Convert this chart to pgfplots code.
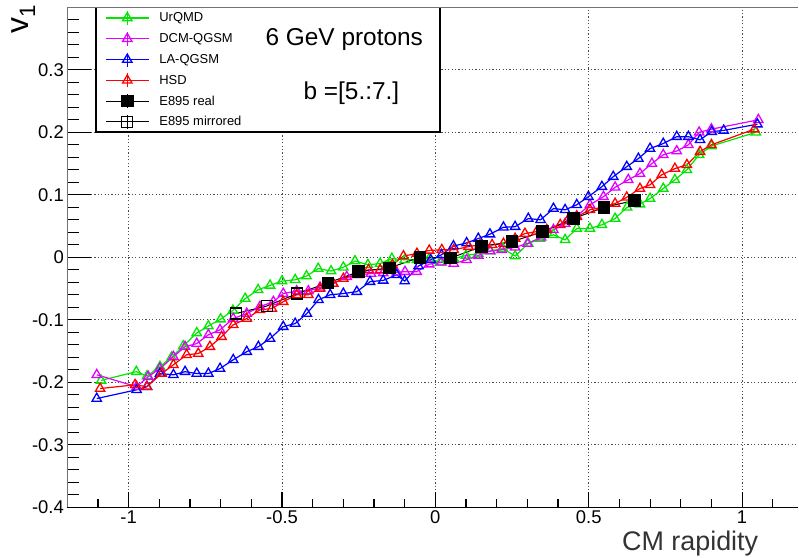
\documentclass[border=0pt]{standalone}
\usepackage{fontspec}
\setmainfont{Liberation Sans}
\usepackage{pgfplots}
\pgfplotsset{compat=1.18}
\definecolor{rgreen}{RGB}{0,230,0}
\definecolor{rmag}{RGB}{225,0,255}
\definecolor{rblue}{RGB}{0,0,255}
\definecolor{rred}{RGB}{255,0,0}
\begin{document}
\begin{tikzpicture}
\useasboundingbox (-67.3bp,-50.7bp) rectangle (731.7bp,507.3bp);
\begin{axis}[
  at={(0,0)}, anchor=south west,
  scale only axis, width=730.9bp, height=500bp,
  xmin=-1.2, xmax=1.183, ymin=-0.4, ymax=0.4,
  clip=false,
  axis line style={draw=none},
  xtick={-1,-0.5,0,0.5,1}, xticklabels={-1,-0.5,0,0.5,1},
  ytick={-0.4,-0.3,-0.2,-0.1,0,0.1,0.2,0.3},
  yticklabels={-0.4,-0.3,-0.2,-0.1,0,0.1,0.2,0.3},
  minor xtick={-1.1,-0.9,-0.8,-0.7,-0.6,-0.4,-0.3,-0.2,-0.1,0.1,0.2,0.3,0.4,0.6,0.7,0.8,0.9,1.1},
  minor ytick={-0.38,-0.36,-0.34,-0.32,-0.28,-0.26,-0.24,-0.22,-0.18,-0.16,-0.14,-0.12,-0.08,-0.06,-0.04,-0.02,0.02,0.04,0.06,0.08,0.12,0.14,0.16,0.18,0.22,0.24,0.26,0.28,0.32,0.34,0.36,0.38},
  xtick pos=lower, ytick pos=left, tick align=inside,
  xtick style={/pgfplots/major tick length=15bp,/pgfplots/minor tick length=8bp},
  ytick style={/pgfplots/major tick length=24bp,/pgfplots/minor tick length=12bp},
  tick style={black, line width=1.1bp},
  grid=major,
  major grid style={black!70, line width=0.9bp, dash pattern=on 1.2bp off 2.2bp},
  ticklabel style={font=\fontsize{18.5}{20}\selectfont},
  legend style={at={(rel axis cs:0,1)}, anchor=north west, xshift=37.7bp, yshift=0bp,
    draw=none, fill=none, font=\fontsize{13}{15}\selectfont, inner sep=0pt,
    row sep=0pt, column sep=10bp, nodes={inner sep=0pt, minimum height=20.8bp}},
  legend cell align=left,
  legend image code/.code={
    \draw[#1] (0bp,0bp) -- (43bp,0bp);
    \draw[#1] (21.5bp,-7bp) -- (21.5bp,7bp);
    \draw[#1] plot coordinates {(21.5bp,0bp)};
  },
]
\draw[black, line width=1.3bp, fill=white] (axis cs:-1.106,0.4) -- (axis cs:-1.106,0.2005) -- (axis cs:0.0153,0.2005) -- (axis cs:0.0153,0.4);

\addplot[rgreen, line width=1.2bp, mark=triangle, mark size=5.4bp, mark options={solid, line width=1.3bp}] coordinates {
(-1.090,-0.197) (-0.975,-0.183) (-0.940,-0.190) (-0.898,-0.175) (-0.860,-0.160) (-0.822,-0.142) (-0.778,-0.121) (-0.740,-0.110) (-0.700,-0.099) (-0.660,-0.085) (-0.620,-0.066) (-0.578,-0.052) (-0.539,-0.045) (-0.500,-0.038) (-0.457,-0.036) (-0.420,-0.030) (-0.382,-0.018) (-0.340,-0.022) (-0.300,-0.016) (-0.262,-0.006) (-0.220,-0.012) (-0.180,-0.010) (-0.142,-0.002) (-0.100,-0.004) (-0.060,-0.004) (-0.020,-0.002) (0.015,-0.008) (0.060,-0.002) (0.100,0.003) (0.140,0.006) (0.180,0.010) (0.220,0.014) (0.260,0.002) (0.303,0.022) (0.341,0.030) (0.385,0.036) (0.423,0.028) (0.461,0.046) (0.504,0.046) (0.543,0.052) (0.586,0.062) (0.625,0.080) (0.667,0.085) (0.700,0.094) (0.743,0.110) (0.781,0.124) (0.820,0.140) (0.860,0.164) (0.900,0.178) (1.045,0.200)
};
\addlegendentry{UrQMD}

\addplot[rmag, line width=1.2bp, mark=triangle, mark size=5.4bp, mark options={solid, line width=1.3bp}] coordinates {
(-1.104,-0.188) (-0.974,-0.207) (-0.936,-0.191) (-0.898,-0.178) (-0.854,-0.159) (-0.816,-0.143) (-0.778,-0.138) (-0.740,-0.124) (-0.702,-0.116) (-0.659,-0.098) (-0.615,-0.090) (-0.572,-0.079) (-0.528,-0.071) (-0.496,-0.058) (-0.452,-0.054) (-0.414,-0.054) (-0.376,-0.048) (-0.333,-0.042) (-0.289,-0.031) (-0.250,-0.028) (-0.210,-0.026) (-0.170,-0.025) (-0.126,-0.024) (-0.099,-0.023) (-0.061,-0.023) (-0.020,-0.011) (0.020,-0.008) (0.060,-0.010) (0.102,-0.004) (0.140,0.003) (0.178,0.010) (0.216,0.012) (0.260,0.016) (0.300,0.022) (0.345,0.032) (0.385,0.044) (0.423,0.054) (0.461,0.066) (0.504,0.084) (0.548,0.097) (0.586,0.112) (0.629,0.124) (0.667,0.134) (0.706,0.150) (0.743,0.164) (0.787,0.170) (0.825,0.180) (0.860,0.200) (0.900,0.205) (1.053,0.220)
};
\addlegendentry{DCM-QGSM}

\addplot[rblue, line width=1.2bp, mark=triangle, mark size=5.4bp, mark options={solid, line width=1.3bp}] coordinates {
(-1.104,-0.226) (-0.974,-0.212) (-0.940,-0.207) (-0.898,-0.186) (-0.854,-0.188) (-0.816,-0.183) (-0.778,-0.186) (-0.740,-0.186) (-0.702,-0.178) (-0.659,-0.164) (-0.615,-0.151) (-0.577,-0.143) (-0.539,-0.130) (-0.496,-0.111) (-0.457,-0.106) (-0.419,-0.090) (-0.381,-0.068) (-0.343,-0.060) (-0.300,-0.058) (-0.256,-0.055) (-0.213,-0.039) (-0.170,-0.037) (-0.126,-0.028) (-0.100,-0.038) (-0.055,-0.014) (-0.015,-0.004) (0.020,0.004) (0.059,0.018) (0.102,0.023) (0.140,0.030) (0.178,0.037) (0.222,0.048) (0.260,0.049) (0.303,0.062) (0.343,0.060) (0.385,0.078) (0.423,0.076) (0.461,0.084) (0.499,0.097) (0.543,0.113) (0.580,0.129) (0.624,0.145) (0.662,0.158) (0.700,0.174) (0.743,0.182) (0.787,0.193) (0.825,0.193) (0.863,0.188) (0.901,0.201) (0.940,0.203) (1.050,0.213)
};
\addlegendentry{LA-QGSM}

\addplot[rred, line width=1.2bp, mark=triangle, mark size=5.4bp, mark options={solid, line width=1.3bp}] coordinates {
(-1.093,-0.210) (-0.979,-0.204) (-0.941,-0.207) (-0.892,-0.186) (-0.854,-0.172) (-0.811,-0.156) (-0.773,-0.154) (-0.735,-0.143) (-0.697,-0.127) (-0.659,-0.108) (-0.615,-0.098) (-0.572,-0.084) (-0.533,-0.082) (-0.496,-0.071) (-0.452,-0.060) (-0.414,-0.060) (-0.376,-0.050) (-0.333,-0.042) (-0.300,-0.034) (-0.256,-0.028) (-0.218,-0.020) (-0.180,-0.020) (-0.140,-0.012) (-0.104,0.002) (-0.060,0.006) (-0.020,0.011) (0.021,0.012) (0.060,0.012) (0.108,0.017) (0.146,0.020) (0.185,0.020) (0.222,0.022) (0.260,0.030) (0.292,0.038) (0.330,0.041) (0.363,0.044) (0.407,0.052) (0.430,0.058) (0.461,0.065) (0.504,0.076) (0.543,0.080) (0.586,0.086) (0.624,0.096) (0.667,0.110) (0.700,0.116) (0.738,0.132) (0.781,0.142) (0.820,0.148) (0.863,0.169) (0.900,0.180) (1.040,0.205)
};
\addlegendentry{HSD}

\addplot[black, line width=1bp, mark=square*, mark size=5.8bp, mark options={solid}] coordinates {
(-0.35,-0.041) (-0.25,-0.023) (-0.15,-0.017) (-0.05,0.000) (0.05,-0.001) (0.15,0.017) (0.25,0.025) (0.35,0.041) (0.45,0.062) (0.55,0.080) (0.65,0.091)
};
\addlegendentry{E895 real}

\addplot[black, line width=1bp, mark=square, mark size=5.5bp, mark options={solid, line width=1.2bp}] coordinates {
(-0.65,-0.090) (-0.55,-0.078) (-0.45,-0.058) (-0.35,-0.041)
};
\addlegendentry{E895 mirrored}

\node[anchor=west, font=\fontsize{24.5}{27}\selectfont] at (axis cs:-0.565,0.348) {6 GeV protons};
\node[anchor=west, font=\fontsize{24.5}{27}\selectfont] at (axis cs:-0.441,0.263) {b =[5.:7.]};

\draw[black!55, line width=1.3bp] (rel axis cs:0,0) -- (rel axis cs:0,1) -- (rel axis cs:1,1);
\draw[black, line width=1.1bp] (rel axis cs:0,0) -- (rel axis cs:1,0);

\node[anchor=east, font=\fontsize{27}{30}\selectfont, text=black!80] at ([yshift=-36bp]axis cs:1.064,-0.4) {CM rapidity};
\node[anchor=east, rotate=90, font=\fontsize{32}{34}\selectfont] at ([xshift=-44bp,yshift=6bp]rel axis cs:0,1) {v\textsubscript{1}};
\end{axis}
\end{tikzpicture}
\end{document}
